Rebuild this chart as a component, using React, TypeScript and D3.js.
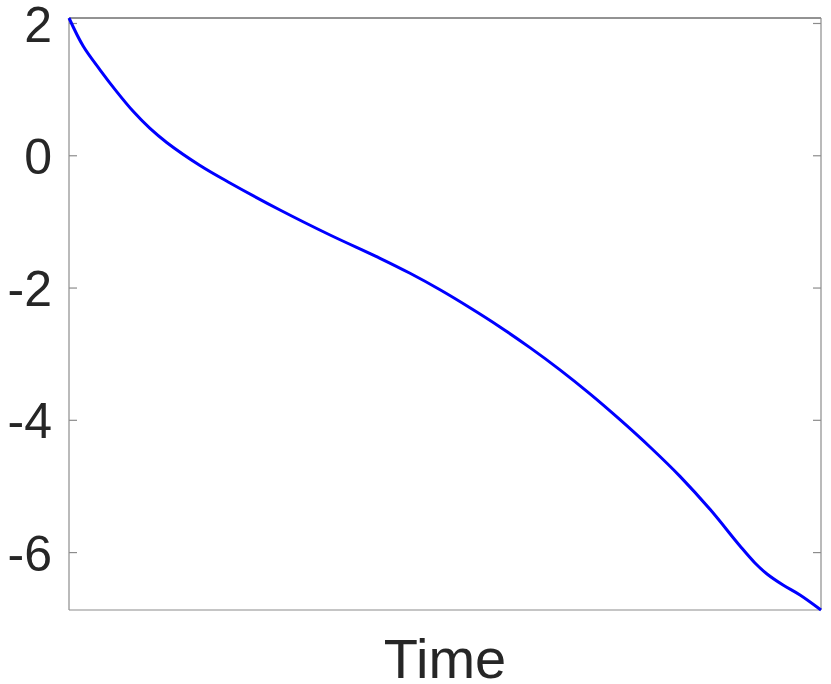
import React from 'react';
import * as d3 from 'd3';

// curve (time normalised to 0..1, no x ticks shown)
const timePoints = [0, 0.019, 0.0412, 0.0634, 0.0856, 0.1077, 0.1299, 0.1742, 0.2141, 0.2806, 0.3471, 0.4136, 0.4535, 0.4934, 0.5332, 0.5731, 0.613, 0.6529, 0.6928, 0.7327, 0.7726, 0.8125, 0.8524, 0.8923, 0.9122, 0.9282, 0.9495, 0.9721, 1];
const values = [2.083, 1.655, 1.3, 0.97, 0.668, 0.413, 0.201, -0.147, -0.411, -0.82, -1.198, -1.55, -1.777, -2.026, -2.298, -2.588, -2.901, -3.237, -3.6, -3.99, -4.403, -4.847, -5.346, -5.9, -6.157, -6.323, -6.49, -6.641, -6.868];
const yTicks = [2, 0, -2, -4, -6];
const xLabel = 'Time';

const width = 831;
const height = 684;
const margin = { top: 18, right: 10, bottom: 74, left: 69 };

const App: React.FC = () => {
  const x = d3.scaleLinear()
    .domain([0, 1])
    .range([margin.left, width - margin.right]);
  const y = d3.scaleLinear()
    .domain([d3.min(values)!, d3.max(values)!])
    .range([height - margin.bottom, margin.top]);

  const data = timePoints.map((t, i) => [t, values[i]] as [number, number]);
  const line = d3.line<[number, number]>()
    .x(d => x(d[0]))
    .y(d => y(d[1]))
    .curve(d3.curveCatmullRom.alpha(0.5));

  const x0 = x.range()[0];
  const x1 = x.range()[1];
  const yTop = y.range()[1];
  const yBottom = y.range()[0];
  const font = 'Helvetica, "Liberation Sans", Arial, sans-serif';
  const axisColor = '#8c8c8c';
  const textColor = '#262626';

  return (
    <svg
      width={width}
      height={height}
      style={{ position: 'absolute', left: 0, top: 0, background: '#fff' }}
    >
      {/* box */}
      <line x1={x0} x2={x1} y1={yTop} y2={yTop} stroke={textColor} strokeWidth={1} />
      <line x1={x0} x2={x0} y1={yTop} y2={yBottom} stroke={axisColor} strokeWidth={1.2} />
      <line x1={x1} x2={x1} y1={yTop} y2={yBottom} stroke={axisColor} strokeWidth={1.2} />
      <line x1={x0} x2={x1} y1={yBottom} y2={yBottom} stroke={axisColor} strokeWidth={1.2} />

      {/* y ticks, inside on both sides */}
      {yTicks.map(t => (
        <g key={t}>
          <line x1={x0} x2={x0 + 8} y1={y(t)} y2={y(t)} stroke={axisColor} strokeWidth={1.2} />
          <line x1={x1} x2={x1 - 8} y1={y(t)} y2={y(t)} stroke={axisColor} strokeWidth={1.2} />
          <text
            x={x0 - 17}
            y={y(t)}
            dy="0.36em"
            textAnchor="end"
            fontFamily={font}
            fontSize={50}
            fill={textColor}
          >
            {t < 0 ? `-${Math.abs(t)}` : t}
          </text>
        </g>
      ))}

      {/* data line */}
      <path d={line(data) || ''} fill="none" stroke="#0000ff" strokeWidth={3} strokeLinejoin="round" />

      {/* x label */}
      <text
        x={(x0 + x1) / 2}
        y={678}
        textAnchor="middle"
        fontFamily={font}
        fontSize={56}
        fill={textColor}
      >
        {xLabel}
      </text>
    </svg>
  );
};

export default App;
